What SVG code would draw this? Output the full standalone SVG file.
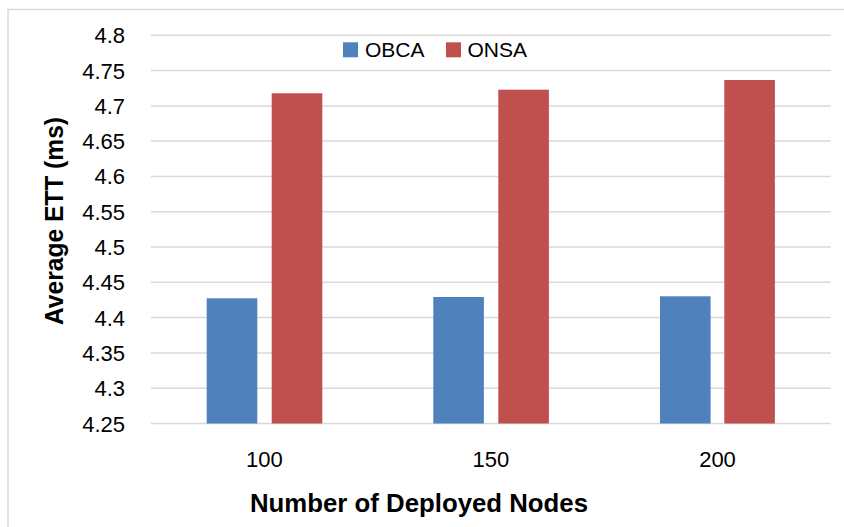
<svg xmlns="http://www.w3.org/2000/svg" width="844" height="527" viewBox="0 0 844 527">
<style>
.grid{stroke:#d9d9d9;stroke-width:1.5;fill:none}
.tick{font-family:"Liberation Sans",Arial,sans-serif;font-size:22px;fill:#000}
.title{font-family:"Liberation Sans",Arial,sans-serif;font-size:25px;font-weight:bold;fill:#000}
.leg{font-family:"Liberation Sans",Arial,sans-serif;font-size:21px;fill:#000}
.obca{fill:#4f81bd}
.onsa{fill:#c0504d}
</style>
<rect x="0" y="0" width="844" height="527" fill="#fff"/>
<rect x="8" y="9.5" width="860" height="540" fill="none" stroke="#d9d9d9" stroke-width="1.5"/>
<g id="gridlines">
<line class="grid" x1="151" y1="35.3" x2="830.7" y2="35.3"/>
<line class="grid" x1="151" y1="70.6" x2="830.7" y2="70.6"/>
<line class="grid" x1="151" y1="105.9" x2="830.7" y2="105.9"/>
<line class="grid" x1="151" y1="141.1" x2="830.7" y2="141.1"/>
<line class="grid" x1="151" y1="176.4" x2="830.7" y2="176.4"/>
<line class="grid" x1="151" y1="211.7" x2="830.7" y2="211.7"/>
<line class="grid" x1="151" y1="247" x2="830.7" y2="247"/>
<line class="grid" x1="151" y1="282.3" x2="830.7" y2="282.3"/>
<line class="grid" x1="151" y1="317.6" x2="830.7" y2="317.6"/>
<line class="grid" x1="151" y1="352.9" x2="830.7" y2="352.9"/>
<line class="grid" x1="151" y1="388.2" x2="830.7" y2="388.2"/>
<line class="grid" x1="151" y1="423.5" x2="830.7" y2="423.5"/>
</g>
<g id="y-ticks" class="tick" text-anchor="end">
<text x="125" y="43.3">4.8</text>
<text x="125" y="78.6">4.75</text>
<text x="125" y="113.9">4.7</text>
<text x="125" y="149.1">4.65</text>
<text x="125" y="184.4">4.6</text>
<text x="125" y="219.7">4.55</text>
<text x="125" y="255">4.5</text>
<text x="125" y="290.3">4.45</text>
<text x="125" y="325.6">4.4</text>
<text x="125" y="360.9">4.35</text>
<text x="125" y="396.2">4.3</text>
<text x="125" y="431.5">4.25</text>
</g>
<g id="bars">
<rect id="obca-100" class="obca" x="206.7" y="298.3" width="50.6" height="125.2"/>
<rect id="onsa-100" class="onsa" x="271.7" y="93.3" width="50.6" height="330.2"/>
<rect id="obca-150" class="obca" x="433.3" y="297" width="50.6" height="126.5"/>
<rect id="onsa-150" class="onsa" x="498.3" y="89.7" width="50.6" height="333.8"/>
<rect id="obca-200" class="obca" x="660" y="296.3" width="50.6" height="127.2"/>
<rect id="onsa-200" class="onsa" x="724.3" y="80" width="50.6" height="343.5"/>
</g>
<g id="x-ticks" class="tick" text-anchor="middle">
<text x="264.3" y="466.5">100</text>
<text x="490.9" y="466.5">150</text>
<text x="717.5" y="466.5">200</text>
</g>
<g id="legend">
<rect class="obca" x="343" y="42.3" width="15" height="15"/>
<text class="leg" x="365" y="57.3">OBCA</text>
<rect class="onsa" x="446" y="42.3" width="15" height="15"/>
<text class="leg" x="467.5" y="57.3">ONSA</text>
</g>
<text id="x-title" class="title" x="419" y="512" text-anchor="middle" textLength="338" lengthAdjust="spacingAndGlyphs">Number of Deployed Nodes</text>
<text id="y-title" class="title" transform="translate(63,221) rotate(-90)" text-anchor="middle" textLength="208" lengthAdjust="spacingAndGlyphs">Average ETT (ms)</text>
</svg>
